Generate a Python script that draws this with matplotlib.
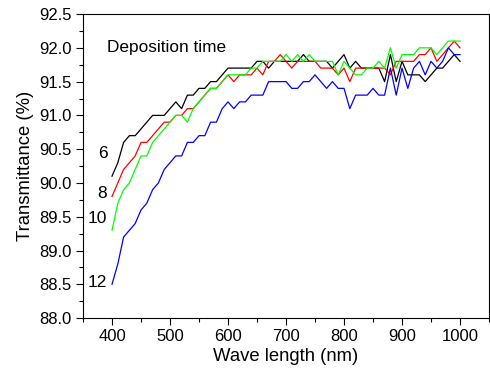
import numpy as np
import matplotlib
matplotlib.use("Agg")
import matplotlib.pyplot as plt
from matplotlib.ticker import MultipleLocator, FormatStrFormatter

plt.rcParams['font.family'] = ['Liberation Sans', 'DejaVu Sans']

# lunghezze d'onda (nm), passo 10
wavelength = np.arange(400, 1001, 10)

# trasmittanza (%) per tempo di deposizione
t6 = [90.1, 90.3, 90.6, 90.7, 90.7, 90.8, 90.9, 91.0, 91.0, 91.0,
      91.1, 91.2, 91.1, 91.3, 91.3, 91.4, 91.4, 91.5, 91.5, 91.6,
      91.7, 91.7, 91.7, 91.7, 91.7, 91.8, 91.8, 91.7, 91.8, 91.8,
      91.8, 91.8, 91.8, 91.9, 91.8, 91.8, 91.8, 91.8, 91.7, 91.8,
      91.9, 91.7, 91.8, 91.7, 91.7, 91.7, 91.7, 91.5, 91.9, 91.5,
      91.8, 91.6, 91.6, 91.6, 91.5, 91.6, 91.7, 91.7, 91.8, 91.9,
      91.8]
t8 = [89.8, 90.0, 90.2, 90.3, 90.4, 90.6, 90.6, 90.7, 90.8, 90.9,
      90.9, 91.0, 91.0, 91.1, 91.1, 91.2, 91.3, 91.4, 91.4, 91.5,
      91.6, 91.5, 91.6, 91.6, 91.6, 91.7, 91.6, 91.8, 91.8, 91.9,
      91.8, 91.7, 91.8, 91.8, 91.8, 91.8, 91.7, 91.7, 91.7, 91.6,
      91.7, 91.5, 91.7, 91.7, 91.7, 91.7, 91.7, 91.7, 91.6, 91.8,
      91.8, 91.8, 91.8, 91.9, 91.9, 92.0, 91.8, 91.9, 92.0, 92.1,
      92.0]
t10 = [89.3, 89.7, 89.9, 90.0, 90.2, 90.4, 90.4, 90.6, 90.7, 90.8,
       90.9, 91.0, 91.0, 90.9, 91.1, 91.2, 91.3, 91.4, 91.4, 91.5,
       91.6, 91.6, 91.6, 91.6, 91.7, 91.7, 91.8, 91.8, 91.8, 91.8,
       91.9, 91.8, 91.9, 91.8, 91.9, 91.8, 91.8, 91.8, 91.8, 91.6,
       91.8, 91.7, 91.6, 91.6, 91.7, 91.7, 91.8, 91.7, 92.0, 91.7,
       91.9, 91.9, 91.9, 92.0, 92.0, 92.0, 91.9, 92.0, 92.1, 92.1,
       92.1]
t12 = [88.5, 88.8, 89.2, 89.3, 89.4, 89.6, 89.7, 89.9, 90.0, 90.2,
       90.3, 90.4, 90.4, 90.6, 90.6, 90.7, 90.7, 90.9, 90.9, 91.1,
       91.2, 91.1, 91.2, 91.2, 91.3, 91.3, 91.3, 91.5, 91.5, 91.5,
       91.5, 91.4, 91.4, 91.5, 91.5, 91.6, 91.5, 91.4, 91.5, 91.4,
       91.4, 91.1, 91.3, 91.3, 91.3, 91.4, 91.3, 91.3, 91.7, 91.3,
       91.7, 91.4, 91.7, 91.8, 91.6, 91.8, 91.7, 91.8, 92.0, 91.9,
       91.9]

labels = ['6', '8', '10', '12']
colors = ['black', '#ff0000', '#00ff00', '#0000ff']

fig = plt.figure(figsize=(4.9, 3.8), dpi=100)
ax = fig.add_axes([0.1694, 0.163, 0.8286, 0.8])

# spostamento verticale delle etichette rispetto al primo punto
lab_dy = [0.34, 0.04, 0.18, 0.02]

for vals, col, lab, dy in zip([t6, t8, t10, t12], colors, labels, lab_dy):
    ax.plot(wavelength, vals, color=col, linewidth=0.9)
    ax.text(wavelength[0] - 8, vals[0] + dy, lab, ha='right', va='center',
            fontsize=12.5)

ax.text(0.059, 0.891, 'Deposition time', transform=ax.transAxes,
        fontsize=12.4, ha='left', va='center')

ax.set_xlim(350, 1050)
ax.set_ylim(88.0, 92.5)
ax.xaxis.set_major_locator(MultipleLocator(100))
ax.xaxis.set_minor_locator(MultipleLocator(50))
ax.yaxis.set_major_locator(MultipleLocator(0.5))
ax.yaxis.set_minor_locator(MultipleLocator(0.25))
ax.yaxis.set_major_formatter(FormatStrFormatter('%.1f'))

ax.tick_params(which='major', direction='out', length=5, width=0.8,
               labelsize=12, top=False, right=False, pad=3)
ax.tick_params(which='minor', direction='out', length=3, width=0.8,
               top=False, right=False)

ax.set_xlabel('Wave length (nm)', fontsize=13.3, labelpad=3)
ax.set_ylabel('Transmittance (%)', fontsize=13.3, labelpad=4)

for s in ax.spines.values():
    s.set_linewidth(0.8)

fig.savefig('out.png', dpi=100)
